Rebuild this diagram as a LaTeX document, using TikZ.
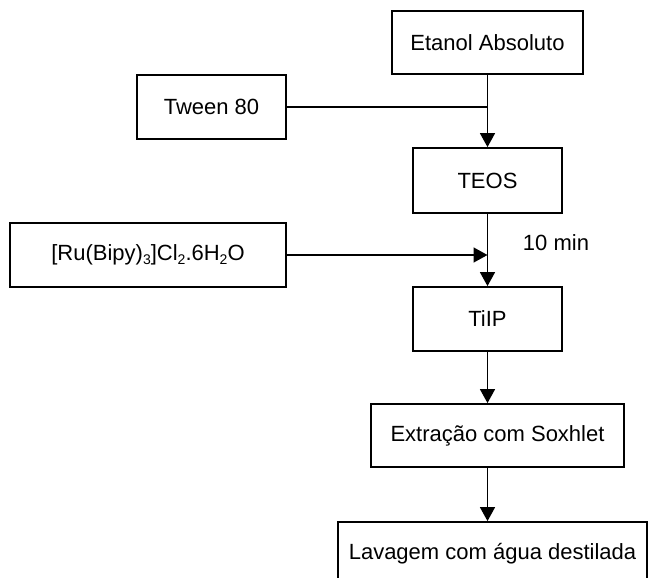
\documentclass[tikz,border=0pt]{standalone}
\usepackage{fontspec}
\setmainfont{Liberation Sans}
\usetikzlibrary{arrows.meta,calc}
\newcommand\mysub[1]{\raisebox{-0.35ex}{\fontsize{14}{14}\selectfont #1}}
\tikzset{
  stepbox/.style={draw, line width=1.8pt, inner sep=0pt, align=center,
    font=\fontsize{22}{26}\selectfont},
  conn/.style={line width=1.5pt},
  arr/.style={conn, -{Triangle[length=14pt,width=15pt]}},
}
\begin{document}
\begin{tikzpicture}[x=1pt,y=-1pt]
\clip (0,0) rectangle (648,578);
\fill[white] (0,0) rectangle (648,578);
\node[stepbox, minimum width=191pt, minimum height=63pt] (etanol) at (487.5,42.5) {Etanol Absoluto};
\node[stepbox, minimum width=149pt, minimum height=64pt] (tween) at (211.5,107) {Tween 80};
\node[stepbox, minimum width=149pt, minimum height=65pt] (teos) at (487.5,180.5) {TEOS};
\node[stepbox, minimum width=276pt, minimum height=64pt] (ru) at (148,255) {[Ru(Bipy)\mysub{3}]Cl\mysub{2}.6H\mysub{2}O};
\node[stepbox, minimum width=149pt, minimum height=64pt] (tiip) at (487.5,319) {TiIP};
\node[stepbox, minimum width=253pt, minimum height=63pt] (sox) at (497.5,435.5) {Extração com Soxhlet};
\node[stepbox, minimum width=309pt, minimum height=64pt] (lav) at (492.5,554) {Lavagem com água destilada};
\node[font=\fontsize{22}{26}\selectfont] (tmin) at (556,243) {10 min};
\coordinate (j1) at ($(etanol.south)!0!(teos.north)$);
\draw[arr] (etanol.south) -- (teos.north);
\draw[conn] (tween.east) -- (tween.east -| etanol.south);
\draw[arr] (teos.south) -- (tiip.north);
\draw[arr] (ru.east) -- (ru.east -| teos.south);
\draw[arr] (tiip.south) -- (tiip.south |- sox.north);
\draw[arr] (tiip.south |- sox.south) -- (tiip.south |- lav.north);
\end{tikzpicture}
\end{document}
